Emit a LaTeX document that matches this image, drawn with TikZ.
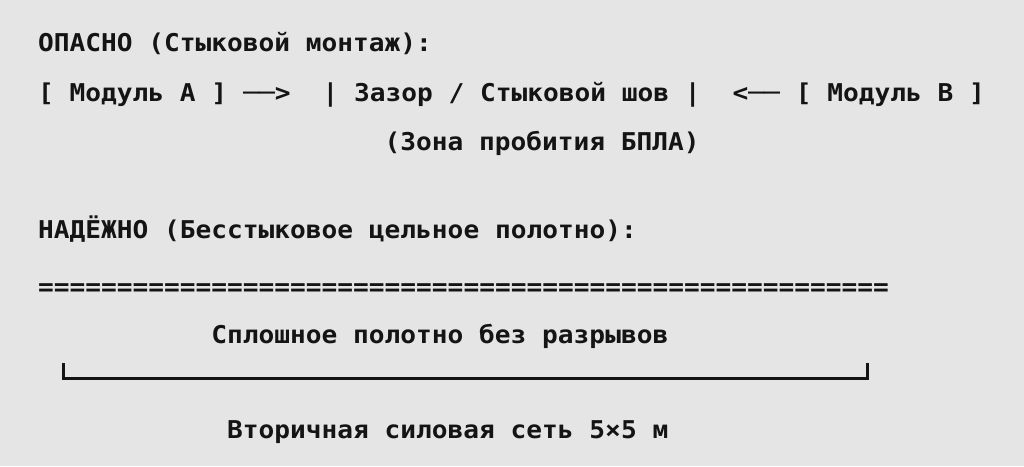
\documentclass[tikz,border=0pt]{standalone}
\usepackage{fontspec}
\setmonofont[FakeStretch=1.068]{DejaVu Sans Mono}
\usetikzlibrary{positioning}
\definecolor{pagegray}{HTML}{E5E5E5}
\definecolor{ink}{HTML}{141414}
\newcommand\colx[1]{38+#1*15.75}

\begin{document}
\begin{tikzpicture}[x=1pt,y=1pt,node distance=15.75pt,
  txt/.style={anchor=base west, inner sep=0pt, text=ink,
    font=\ttfamily\bfseries\fontsize{24.5}{29}\selectfont},
  bracket/.style={draw=ink, line width=3pt}]
  \fill[pagegray] (0,0) rectangle (1024,-466);
  \useasboundingbox (0,0) rectangle (1024,-466);
  % joint mounting
  \node (bad) [txt] at ({\colx{0}},-51) {ОПАСНО (Стыковой монтаж):};
  \node (modA) [txt] at ({\colx{0}},-101) {[ Модуль А ]};
  \node (arrA) [txt, base right=of modA] {──>};
  \node (gap) [txt, base right=31.5pt of arrA] {| Зазор / Стыковой шов |};
  \node (arrB) [txt, base right=31.5pt of gap] {<──};
  \node (modB) [txt, base right=of arrB] {[ Модуль В ]};
  \node (hit) [txt] at ({\colx{22}},-150) {(Зона пробития БПЛА)};
  % seamless web
  \node (good) [txt] at ({\colx{0}},-238) {НАДЁЖНО (Бесстыковое цельное полотно):};
  \node (web) [txt] at ({\colx{0}},-295) {======================================================};
  \node (solid) [txt] at ({\colx{11}},-343) {Сплошное полотно без разрывов};
  \coordinate (netL) at (63,-363);
  \coordinate (netR) at (867,-363);
  \draw[bracket] (netL) -- ++(0,-15) -| (netR);
  \node (grid) [txt] at ({\colx{12}},-438) {Вторичная силовая сеть 5×5 м};
\end{tikzpicture}
\end{document}
